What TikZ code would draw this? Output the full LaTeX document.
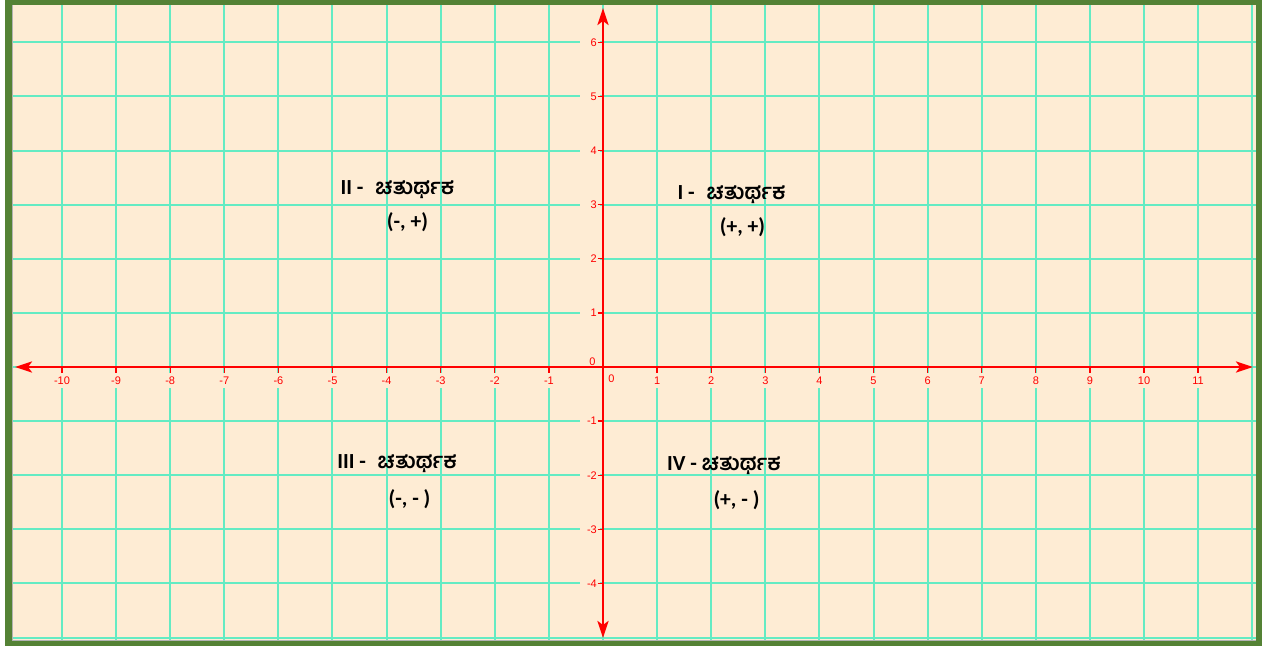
\documentclass[tikz,border=0pt]{standalone}
\usepackage{fontspec}
\setmainfont{Liberation Sans}
\newfontfamily\kan[Script=Kannada]{Hind Mysuru}
\newfontfamily\lat{Carlito}
\usetikzlibrary{arrows.meta}
\definecolor{cream}{RGB}{254,236,212}
\definecolor{gridc}{RGB}{100,235,195}
\definecolor{framec}{RGB}{84,130,53}
\definecolor{axred}{RGB}{255,0,0}
\begin{document}
\begin{tikzpicture}[x=1pt,y=-1pt,
  gridline/.style={draw=gridc, line width=2pt},
  axisline/.style={draw=axred, line width=2.6pt, arrows={Stealth[length=17pt,width=11pt,inset=4pt]-Stealth[length=17pt,width=11pt,inset=4pt]}},
  tickmark/.style={draw=axred, line width=1.3pt},
  xlab/.style={font=\fontsize{11}{11}\selectfont, text=axred, fill=cream, inner sep=1.5pt, minimum height=15pt},
  ylab/.style={font=\fontsize{11}{11}\selectfont, text=axred, fill=cream, inner sep=3pt, text width=14pt, align=right, minimum height=12pt, anchor=east},
  qlab/.style={font=\fontsize{21.5}{24}\selectfont\lat\bfseries, text=black, inner sep=0pt}]
\useasboundingbox (0,0) rectangle (1265,650);
% frame
\fill[framec] (5,-1) rectangle (1262,646);
\fill[cream] (12,5) rectangle (1256,640);
% grid
\begin{scope}
\clip (12,5) rectangle (1256,640);
\foreach \k in {-10,...,12} {
  \pgfmathsetmacro{\gx}{round(603+54.1*\k)}
  \draw[gridline] (\gx,5) -- (\gx,640);}
\foreach \k in {-5,...,6} {
  \pgfmathsetmacro{\gy}{round(367-54.1*\k)}
  \draw[gridline] (12,\gy) -- (1256,\gy);}
\end{scope}
\draw[gray!60, line width=1pt] (12.5,5) -- (12.5,640.5) -- (1256,640.5);
% tick labels
\foreach \k in {-10,...,-1,1,2,...,11}
  \node[xlab] (xl\k) at ({603+54.1*\k},380.5) {\k};
\foreach \k in {-4,...,-1,1,2,...,6}
  \node[ylab] (yl\k) at (600,{367-54.1*\k}) {\k};
\node[font=\fontsize{11}{11}\selectfont, text=axred, inner sep=0pt] (x0) at (611.5,379) {0};
\node[font=\fontsize{11}{11}\selectfont, text=axred, inner sep=0pt] (y0) at (592.5,361.5) {0};
% ticks
\foreach \k in {-10,...,-1,1,2,...,11}
  \draw[tickmark] ({603+54.1*\k},367) -- ({603+54.1*\k},372.5);
\foreach \k in {-4,...,-1,1,2,...,6}
  \draw[tickmark] (597.5,{367-54.1*\k}) -- (603,{367-54.1*\k});
% axes
\coordinate (xa) at (15,367);
\coordinate (xb) at (1253,367);
\coordinate (ya) at (603,8);
\coordinate (yb) at (603,638);
\draw[axisline] (xa) -- (xb);
\draw[axisline] (yb) -- (ya);
% quadrant labels
\node[qlab] (q2) at (397.5,190) {II -\hspace{0.55em}{\kan ಚತುರ್ಥಕ}};
\node[qlab] (q2s) at (407.5,222) {(-, +)};
\node[qlab] (q1) at (731.5,194.5) {I -\hspace{0.55em}{\kan ಚತುರ್ಥಕ}};
\node[qlab] (q1s) at (742.5,227) {(+, +)};
\node[qlab] (q3) at (397,464) {III -\hspace{0.55em}{\kan ಚತುರ್ಥಕ}};
\node[qlab] (q3s) at (409.5,499) {(-, - )};
\node[qlab] (q4) at (724,466) {IV - {\kan ಚತುರ್ಥಕ}};
\node[qlab] (q4s) at (736.5,500) {(+, - )};
\end{tikzpicture}
\end{document}
